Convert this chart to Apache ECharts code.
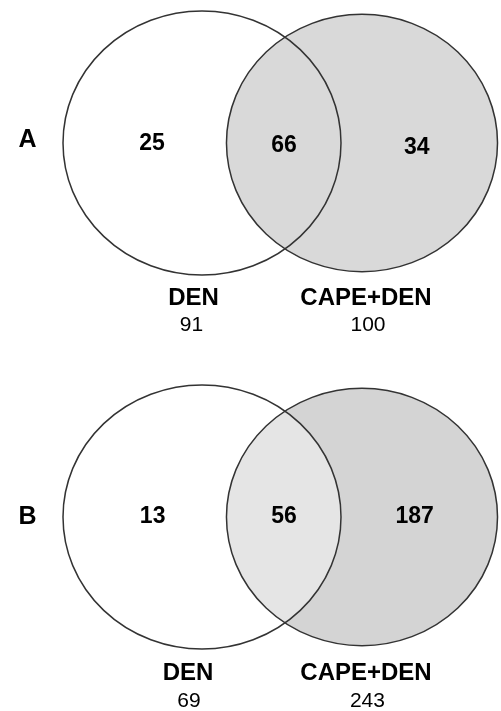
<!DOCTYPE html>
<html>
<head>
<meta charset="utf-8">
<script src="https://cdn.jsdelivr.net/npm/echarts@6/dist/echarts.min.js"></script>
<style>html,body{margin:0;padding:0;background:#fff}#c{width:501px;height:711px}</style>
</head>
<body>
<div id="c"></div>
<script>
// ---- data ----
const panels = ['A', 'B'];
const setNames = ['DEN', 'CAPE+DEN'];
const onlyLeft = [25, 13];
const overlap = [66, 56];
const onlyRight = [34, 187];
const totalLeft = [91, 69];
const totalRight = [100, 243];

// ---- layout (data units of each hidden panel grid) ----
const D = 1.151;            // distance between circle centres
const R1 = 1.0, R2 = 0.975; // radii
const styles = [
  { rightFill: '#d9d9d9', lensFill: '#d9d9d9' },
  { rightFill: '#d4d4d4', lensFill: '#e5e5e5' }
];
const labelPos = [
  { panel: [-1.255, 0.02], l: [-0.36, -0.008], o: [0.59, -0.02], r: [1.545, -0.034],
    nameL: [-0.061, -1.174], totL: [-0.076, -1.379], nameR: [1.18, -1.174], totR: [1.194, -1.379] },
  { panel: [-1.255, -0.004], l: [-0.355, 0.002], o: [0.59, 0.0], r: [1.53, 0.0],
    nameL: [-0.10, -1.182], totL: [-0.094, -1.399], nameR: [1.18, -1.182], totR: [1.19, -1.399] }
];

const STROKE = '#333333';
const FF = '"Liberation Sans", Arial, sans-serif';

function ellipsePath(cx, cy, rx, ry) {
  return 'M' + (cx - rx) + ' ' + cy +
    ' A' + rx + ' ' + ry + ' 0 1 0 ' + (cx + rx) + ' ' + cy +
    ' A' + rx + ' ' + ry + ' 0 1 0 ' + (cx - rx) + ' ' + cy + ' Z';
}

function makeRender(i) {
  return function (params, api) {
    const c1 = api.coord([0, 0]);
    const c2 = api.coord([D, 0]);
    const s = api.size([1, 1]);
    const rx1 = R1 * s[0], ry1 = R1 * s[1];
    const rx2 = R2 * s[0], ry2 = R2 * s[1];
    // intersection points in data units
    const ix = (D * D + R1 * R1 - R2 * R2) / (2 * D);
    const iy = Math.sqrt(R1 * R1 - ix * ix);
    const pTop = api.coord([ix, iy]);
    const pBot = api.coord([ix, -iy]);
    const lens = 'M' + pTop[0] + ' ' + pTop[1] +
      ' A' + rx1 + ' ' + ry1 + ' 0 0 1 ' + pBot[0] + ' ' + pBot[1] +
      ' A' + rx2 + ' ' + ry2 + ' 0 0 1 ' + pTop[0] + ' ' + pTop[1] + ' Z';
    const st = styles[i];
    const lp = labelPos[i];
    function txt(pos, text, font) {
      const p = api.coord(pos);
      return { type: 'text', x: p[0], y: p[1],
        style: { text: String(text), font: font, fill: '#000', align: 'center', verticalAlign: 'middle' } };
    }
    const bold = 'bold 23px ' + FF;
    const boldName = 'bold 24px ' + FF;
    const reg = '21px ' + FF;
    return {
      type: 'group',
      children: [
        { type: 'path', shape: { pathData: ellipsePath(c1[0], c1[1], rx1, ry1) }, style: { fill: '#ffffff', stroke: null } },
        { type: 'path', shape: { pathData: ellipsePath(c2[0], c2[1], rx2, ry2) }, style: { fill: st.rightFill, stroke: null } },
        { type: 'path', shape: { pathData: lens }, style: { fill: st.lensFill, stroke: null } },
        { type: 'path', shape: { pathData: ellipsePath(c1[0], c1[1], rx1, ry1) }, style: { fill: null, stroke: STROKE, lineWidth: 1.5 } },
        { type: 'path', shape: { pathData: ellipsePath(c2[0], c2[1], rx2, ry2) }, style: { fill: null, stroke: STROKE, lineWidth: 1.5 } },
        txt(lp.panel, panels[i], 'bold 25px ' + FF),
        txt(lp.l, onlyLeft[i], bold),
        txt(lp.o, overlap[i], bold),
        txt(lp.r, onlyRight[i], bold),
        txt(lp.nameL, setNames[0], boldName),
        txt(lp.totL, totalLeft[i], reg),
        txt(lp.nameR, setNames[1], boldName),
        txt(lp.totR, totalRight[i], reg)
      ]
    };
  };
}

const chart = echarts.init(document.getElementById('c'), null, { renderer: 'canvas' });
chart.setOption({
  animation: false,
  backgroundColor: '#ffffff',
  grid: [
    { left: 7.4, top: 4.4, width: 486.5, height: 336.6 },
    { left: 7.4, top: 378.4, width: 486.5, height: 330 }
  ],
  xAxis: [
    { type: 'value', gridIndex: 0, min: -1.4, max: 2.1, show: false },
    { type: 'value', gridIndex: 1, min: -1.4, max: 2.1, show: false }
  ],
  yAxis: [
    { type: 'value', gridIndex: 0, min: -1.5, max: 1.05, show: false },
    { type: 'value', gridIndex: 1, min: -1.45, max: 1.05, show: false }
  ],
  series: panels.map(function (p, i) {
    return {
      type: 'custom',
      name: p,
      xAxisIndex: i,
      yAxisIndex: i,
      coordinateSystem: 'cartesian2d',
      silent: true,
      data: [[0, 0]],
      renderItem: makeRender(i)
    };
  })
});
</script>
</body>
</html>
